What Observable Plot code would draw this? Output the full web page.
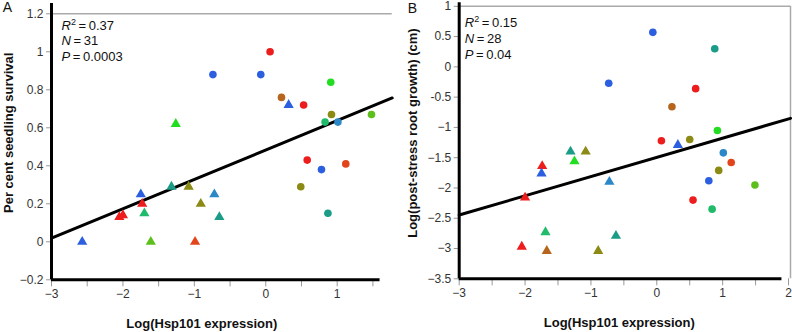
<!DOCTYPE html>
<html><head><meta charset="utf-8">
<script src="https://cdn.jsdelivr.net/npm/d3@7"></script>
<script src="https://cdn.jsdelivr.net/npm/@observablehq/plot@0.6"></script>
<style>
body{margin:0;background:#fff;}
#wrap{position:relative;width:792px;height:332px;overflow:hidden;font-family:"Liberation Sans",Arial,sans-serif;}
#wrap svg{position:absolute;top:0;overflow:visible;background:none}
</style></head><body><div id="wrap"></div>
<script>
// ---- Panel A data ----
const aX = [0.06,-0.74,-0.07,0.91,0.22,0.53,0.92,0.83,1.01,1.48,0.58,0.78,1.12,0.49,0.87,
            -1.26,0.32,-2.57,-2.05,-2.0,-1.75,-1.73,-1.70,-1.61,-1.32,-1.08,-0.91,-0.72,-0.65,-0.99];
const aY = [1.0,0.88,0.88,0.84,0.76,0.72,0.67,0.63,0.63,0.67,0.43,0.38,0.41,0.29,0.15,
            0.62,0.72,0.0,0.13,0.14,0.25,0.2,0.15,0.0,0.29,0.29,0.2,0.25,0.13,0.0];
const aGroup = ["g1","g2","g2","g3","g4","g1","g5","g6","g7","g8","g1","g2","g9","g5","g10",
                "g3","g2","g2","g1","g1","g2","g1","g6","g8","g10","g5","g5","g7","g10","g9"];
const aType = ["S1","S1","S1","S1","S1","S1","S1","S1","S1","S1","S1","S1","S1","S1","S1",
               "S2","S2","S2","S2","S2","S2","S2","S2","S2","S2","S2","S2","S2","S2","S2"];
const aFitX = [-3, 1.77];
const aFitY = [0.019, 0.757];
const aYTicks = [1.2,1,0.8,0.6,0.4,0.2,0,-0.2];
const aYTickLabels = ["1.2","1","0.8","0.6","0.4","0.2","0","\u22120.2"];
const aXTicks = [-3,-2,-1,0,1];
const aXTickLabels = ["\u22123","\u22122","\u22121","0","1"];
const aXMinor = [-2.5,-1.5,-0.5,0.5,1.5];
const aStatNames = ["R","N","P"];
const aStatValues = ["0.37","31","0.0003"];

// ---- Panel B data ----
const bX = [-0.06,0.88,-0.73,0.59,0.23,0.92,0.07,0.5,1.01,1.13,0.94,0.79,1.49,0.55,0.84,
            0.32,-1.31,-1.08,-1.25,-1.74,-1.75,-0.72,-2.0,-1.69,-0.62,-2.05,-1.67,-0.89];
const bY = [0.57,0.30,-0.27,-0.36,-0.66,-1.05,-1.22,-1.2,-1.42,-1.58,-1.71,-1.88,-1.95,-2.2,-2.35,
            -1.29,-1.4,-1.4,-1.56,-1.64,-1.76,-1.9,-2.16,-2.73,-2.79,-2.97,-3.04,-3.04];
const bGroup = ["g2","g10","g2","g1","g4","g3","g1","g5","g7","g9","g5","g2","g8","g1","g6",
                "g2","g10","g5","g3","g1","g2","g7","g1","g6","g10","g1","g4","g5"];
const bType = ["S1","S1","S1","S1","S1","S1","S1","S1","S1","S1","S1","S1","S1","S1","S1",
               "S2","S2","S2","S2","S2","S2","S2","S2","S2","S2","S2","S2","S2"];
const bFitX = [-3, 2.03];
const bFitY = [-2.447, -0.85];
const bYTicks = [1,0.5,0,-0.5,-1,-1.5,-2,-2.5,-3,-3.5];
const bYTickLabels = ["1","0.5","0","-0.5","\u22121","\u22121.5","\u22122","\u22122.5","\u22123","\u22123.5"];
const bXTicks = [-3,-2,-1,0,1,2];
const bXTickLabels = ["\u22123","\u22122","\u22121","0","1","2"];
const bXMinor = [-2.5,-1.5,-0.5,0.5,1.5];
const bStatNames = ["R","N","P"];
const bStatValues = ["0.15","28","0.04"];

const groupIds = ["g1","g2","g3","g4","g5","g6","g7","g8","g9","g10"];
const palette = ["#ee1d1d","#2c5fe0","#22dd22","#b5651d","#8a8a14","#1fba6a","#2a88c8","#5cbf1c","#e2441c","#1a9c86"];

function panel(o) {
  const pts = o.x.map((x, i) => ({x, y: o.y[i], g: o.g[i], s: o.s[i]}));
  const fit = o.fx.map((x, i) => ({x, y: o.fy[i]}));
  const fmt = (ticks, labels) => d => labels[ticks.indexOf(d)];
  const marks = [
    Plot.ruleY([o.yDomain[1]], {stroke: "#aaa", strokeWidth: 1.5}),
    ...(o.rightFrame ? [Plot.ruleX([o.xDomain[1]], {stroke: "#aaa", strokeWidth: 1.5})] : []),
    Plot.axisY({ticks: o.yTicks, tickFormat: fmt(o.yTicks, o.yLabels), tickSize: 5, tickPadding: 3,
                stroke: "#999", fill: "#333", fontSize: 12, label: null}),
    Plot.axisX({ticks: o.xTicks, tickFormat: fmt(o.xTicks, o.xLabels), tickSize: 7, tickPadding: 3,
                stroke: "#999", fill: "#333", fontSize: 12, label: null}),
    Plot.axisX({ticks: o.xMinor, tickFormat: () => "", tickSize: 7, stroke: "#999", label: null}),
    Plot.ruleX([o.xDomain[0]], {y1: o.yDomain[0], y2: o.yAxisTop, stroke: "#000", strokeWidth: 3}),
    Plot.ruleY([o.yDomain[0]], {x1: o.xDomain[0], x2: o.xAxisEnd, stroke: "#000", strokeWidth: 3}),
    Plot.line(fit, {x: "x", y: "y", stroke: "#000", strokeWidth: 3}),
    Plot.dot(pts, {x: "x", y: "y", fill: "g", symbol: "s", r: 3.8, stroke: "none"}),
    ...o.statNames.map((n, i) => Plot.text([n + (n === "R" ? "2" : "") + " = " + o.statValues[i]], {
      frameAnchor: "top-left", dx: o.statDx, dy: o.statDy[i], textAnchor: "start", lineAnchor: "middle",
      fontSize: 13, fill: "#111"})),
    Plot.text([o.letter], {frameAnchor: "top-left", dx: o.letterDx, dy: o.letterDy, textAnchor: "middle", fontSize: 14, fill: "#111", lineAnchor: "middle"}),
    Plot.text([o.xTitle], {frameAnchor: "bottom", dx: o.xTitleDx, dy: o.xTitleDy, textAnchor: "middle", fontSize: 13, fontWeight: "bold", fill: "#111", lineAnchor: "middle"}),
    Plot.text([o.yTitle], {frameAnchor: "left", rotate: -90, dx: o.yTitleDx, dy: o.yTitleDy, textAnchor: "middle", fontSize: 13, fontWeight: "bold", fill: "#111", lineAnchor: "middle"})
  ];
  const svg = Plot.plot({
    width: 396, height: 332,
    marginLeft: o.ml, marginRight: o.mr, marginTop: o.mt, marginBottom: o.mb,
    style: {fontFamily: '"Liberation Sans", Arial, sans-serif', background: "none", color: "#333"},
    x: {domain: o.xDomain, axis: null},
    y: {domain: o.yDomain, axis: null},
    color: {domain: groupIds, range: palette},
    symbol: {domain: ["S1", "S2"], range: ["circle", "triangle"]},
    marks
  });
  // italic stat letters & superscript
  d3.select(svg).selectAll("text").each(function () {
    const t = this.textContent;
    const m = t.match(/^([RNP])(2?) = (.*)$/);
    if (!m) return;
    const el = d3.select(this);
    el.text(null);
    el.append("tspan").attr("font-style", "italic").text(m[1]);
    if (m[2]) {
      el.append("tspan").attr("font-size", 9).attr("dy", -5).text("2");
      el.append("tspan").attr("dy", 5).text("\u2009=\u2009" + m[3]);
    } else {
      el.append("tspan").text("\u2009=\u2009" + m[3]);
    }
  });
  return svg;
}

const wrap = document.getElementById("wrap");
const A = panel({
  x: aX, y: aY, g: aGroup, s: aType, fx: aFitX, fy: aFitY,
  xDomain: [-3, 1.77], yDomain: [-0.2, 1.2], yAxisTop: 1.254, xAxisEnd: 1.6, rightFrame: false,
  yTicks: aYTicks, yLabels: aYTickLabels, xTicks: aXTicks, xLabels: aXTickLabels, xMinor: aXMinor,
  ml: 51, mr: 4.3, mt: 13.3, mb: 52.7,
  statNames: aStatNames, statValues: aStatValues, statDx: 10, statDy: [11.7, 27.4, 43.4],
  letter: "A", letterDx: -44, letterDy: -6.3,
  xTitle: "Log(Hsp101 expression)", xTitleDx: -20, xTitleDy: 43.7,
  yTitle: "Per cent seedling survival", yTitleDx: -43, yTitleDy: -14
});
const B = panel({
  x: bX, y: bY, g: bGroup, s: bType, fx: bFitX, fy: bFitY,
  xDomain: [-3, 2.03], yDomain: [-3.5, 1], yAxisTop: 1.06, xAxisEnd: 1.9, rightFrame: true,
  yTicks: bYTicks, yLabels: bYTickLabels, xTicks: bXTicks, xLabels: bXTickLabels, xMinor: bXMinor,
  ml: 62.7, mr: 2, mt: 5.8, mb: 53.7,
  statNames: bStatNames, statValues: bStatValues, statDx: 5.6, statDy: [16.5, 32.5, 48.2],
  letter: "B", letterDx: -46.7, letterDy: 2.2,
  xTitle: "Log(Hsp101 expression)", xTitleDx: -5.6, xTitleDy: 43.7,
  yTitle: "Log(post-stress root growth) (cm)", yTitleDx: -46.2, yTitleDy: -9.5
});
A.style.left = "0px";
B.style.left = "396px";
wrap.appendChild(A);
wrap.appendChild(B);
</script></body></html>
